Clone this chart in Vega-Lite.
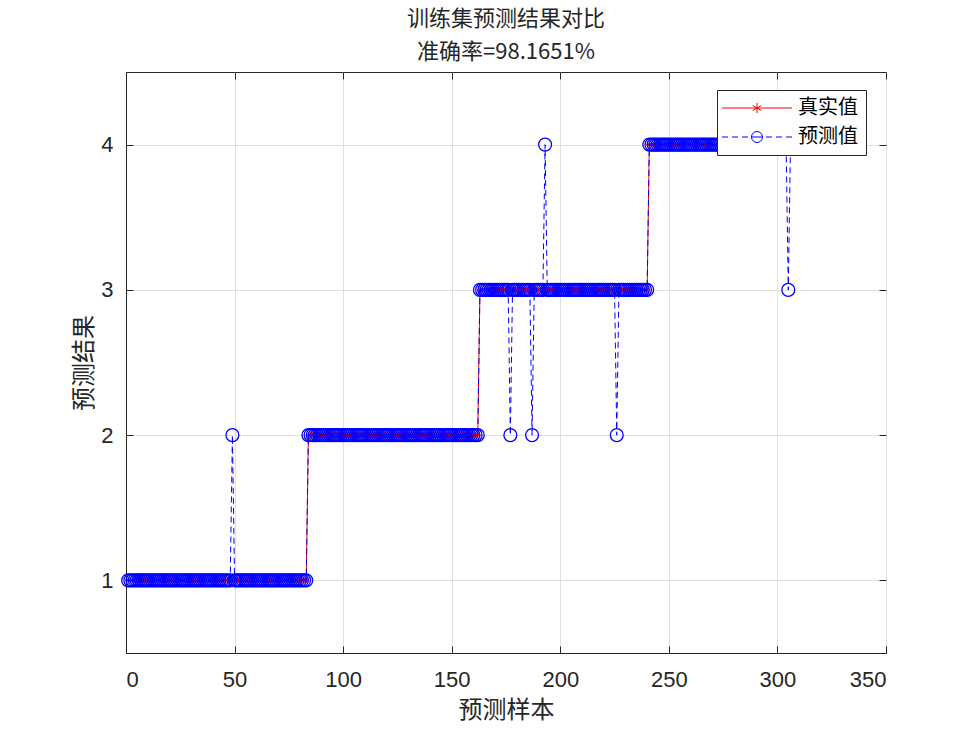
{
"$schema":"https://vega.github.io/schema/vega-lite/v6.json",
"width":760,"height":581,
"autosize":{"type":"none"},
"padding":{"left":126,"top":72,"right":94,"bottom":82},
"background":"white",
"title":{"text":["训练集预测结果对比","准确率=98.1651%"],"font":"Noto Sans CJK SC","fontSize":22,"fontWeight":"normal","color":"#262626","lineHeight":33,"offset":8,"anchor":"middle"},
"data":{"values":[
{"x":1,"t":1,"p":1},{"x":2,"t":1,"p":1},{"x":3,"t":1,"p":1},{"x":4,"t":1,"p":1},{"x":5,"t":1,"p":1},{"x":6,"t":1,"p":1},{"x":7,"t":1,"p":1},{"x":8,"t":1,"p":1},{"x":9,"t":1,"p":1},{"x":10,"t":1,"p":1},
{"x":11,"t":1,"p":1},{"x":12,"t":1,"p":1},{"x":13,"t":1,"p":1},{"x":14,"t":1,"p":1},{"x":15,"t":1,"p":1},{"x":16,"t":1,"p":1},{"x":17,"t":1,"p":1},{"x":18,"t":1,"p":1},{"x":19,"t":1,"p":1},{"x":20,"t":1,"p":1},
{"x":21,"t":1,"p":1},{"x":22,"t":1,"p":1},{"x":23,"t":1,"p":1},{"x":24,"t":1,"p":1},{"x":25,"t":1,"p":1},{"x":26,"t":1,"p":1},{"x":27,"t":1,"p":1},{"x":28,"t":1,"p":1},{"x":29,"t":1,"p":1},{"x":30,"t":1,"p":1},
{"x":31,"t":1,"p":1},{"x":32,"t":1,"p":1},{"x":33,"t":1,"p":1},{"x":34,"t":1,"p":1},{"x":35,"t":1,"p":1},{"x":36,"t":1,"p":1},{"x":37,"t":1,"p":1},{"x":38,"t":1,"p":1},{"x":39,"t":1,"p":1},{"x":40,"t":1,"p":1},
{"x":41,"t":1,"p":1},{"x":42,"t":1,"p":1},{"x":43,"t":1,"p":1},{"x":44,"t":1,"p":1},{"x":45,"t":1,"p":1},{"x":46,"t":1,"p":1},{"x":47,"t":1,"p":1},{"x":48,"t":1,"p":1},{"x":49,"t":1,"p":2},{"x":50,"t":1,"p":1},
{"x":51,"t":1,"p":1},{"x":52,"t":1,"p":1},{"x":53,"t":1,"p":1},{"x":54,"t":1,"p":1},{"x":55,"t":1,"p":1},{"x":56,"t":1,"p":1},{"x":57,"t":1,"p":1},{"x":58,"t":1,"p":1},{"x":59,"t":1,"p":1},{"x":60,"t":1,"p":1},
{"x":61,"t":1,"p":1},{"x":62,"t":1,"p":1},{"x":63,"t":1,"p":1},{"x":64,"t":1,"p":1},{"x":65,"t":1,"p":1},{"x":66,"t":1,"p":1},{"x":67,"t":1,"p":1},{"x":68,"t":1,"p":1},{"x":69,"t":1,"p":1},{"x":70,"t":1,"p":1},
{"x":71,"t":1,"p":1},{"x":72,"t":1,"p":1},{"x":73,"t":1,"p":1},{"x":74,"t":1,"p":1},{"x":75,"t":1,"p":1},{"x":76,"t":1,"p":1},{"x":77,"t":1,"p":1},{"x":78,"t":1,"p":1},{"x":79,"t":1,"p":1},{"x":80,"t":1,"p":1},
{"x":81,"t":1,"p":1},{"x":82,"t":1,"p":1},{"x":83,"t":1,"p":1},{"x":84,"t":2,"p":2},{"x":85,"t":2,"p":2},{"x":86,"t":2,"p":2},{"x":87,"t":2,"p":2},{"x":88,"t":2,"p":2},{"x":89,"t":2,"p":2},{"x":90,"t":2,"p":2},
{"x":91,"t":2,"p":2},{"x":92,"t":2,"p":2},{"x":93,"t":2,"p":2},{"x":94,"t":2,"p":2},{"x":95,"t":2,"p":2},{"x":96,"t":2,"p":2},{"x":97,"t":2,"p":2},{"x":98,"t":2,"p":2},{"x":99,"t":2,"p":2},{"x":100,"t":2,"p":2},
{"x":101,"t":2,"p":2},{"x":102,"t":2,"p":2},{"x":103,"t":2,"p":2},{"x":104,"t":2,"p":2},{"x":105,"t":2,"p":2},{"x":106,"t":2,"p":2},{"x":107,"t":2,"p":2},{"x":108,"t":2,"p":2},{"x":109,"t":2,"p":2},{"x":110,"t":2,"p":2},
{"x":111,"t":2,"p":2},{"x":112,"t":2,"p":2},{"x":113,"t":2,"p":2},{"x":114,"t":2,"p":2},{"x":115,"t":2,"p":2},{"x":116,"t":2,"p":2},{"x":117,"t":2,"p":2},{"x":118,"t":2,"p":2},{"x":119,"t":2,"p":2},{"x":120,"t":2,"p":2},
{"x":121,"t":2,"p":2},{"x":122,"t":2,"p":2},{"x":123,"t":2,"p":2},{"x":124,"t":2,"p":2},{"x":125,"t":2,"p":2},{"x":126,"t":2,"p":2},{"x":127,"t":2,"p":2},{"x":128,"t":2,"p":2},{"x":129,"t":2,"p":2},{"x":130,"t":2,"p":2},
{"x":131,"t":2,"p":2},{"x":132,"t":2,"p":2},{"x":133,"t":2,"p":2},{"x":134,"t":2,"p":2},{"x":135,"t":2,"p":2},{"x":136,"t":2,"p":2},{"x":137,"t":2,"p":2},{"x":138,"t":2,"p":2},{"x":139,"t":2,"p":2},{"x":140,"t":2,"p":2},
{"x":141,"t":2,"p":2},{"x":142,"t":2,"p":2},{"x":143,"t":2,"p":2},{"x":144,"t":2,"p":2},{"x":145,"t":2,"p":2},{"x":146,"t":2,"p":2},{"x":147,"t":2,"p":2},{"x":148,"t":2,"p":2},{"x":149,"t":2,"p":2},{"x":150,"t":2,"p":2},
{"x":151,"t":2,"p":2},{"x":152,"t":2,"p":2},{"x":153,"t":2,"p":2},{"x":154,"t":2,"p":2},{"x":155,"t":2,"p":2},{"x":156,"t":2,"p":2},{"x":157,"t":2,"p":2},{"x":158,"t":2,"p":2},{"x":159,"t":2,"p":2},{"x":160,"t":2,"p":2},
{"x":161,"t":2,"p":2},{"x":162,"t":2,"p":2},{"x":163,"t":3,"p":3},{"x":164,"t":3,"p":3},{"x":165,"t":3,"p":3},{"x":166,"t":3,"p":3},{"x":167,"t":3,"p":3},{"x":168,"t":3,"p":3},{"x":169,"t":3,"p":3},{"x":170,"t":3,"p":3},
{"x":171,"t":3,"p":3},{"x":172,"t":3,"p":3},{"x":173,"t":3,"p":3},{"x":174,"t":3,"p":3},{"x":175,"t":3,"p":3},{"x":176,"t":3,"p":3},{"x":177,"t":3,"p":2},{"x":178,"t":3,"p":3},{"x":179,"t":3,"p":3},{"x":180,"t":3,"p":3},
{"x":181,"t":3,"p":3},{"x":182,"t":3,"p":3},{"x":183,"t":3,"p":3},{"x":184,"t":3,"p":3},{"x":185,"t":3,"p":3},{"x":186,"t":3,"p":3},{"x":187,"t":3,"p":2},{"x":188,"t":3,"p":3},{"x":189,"t":3,"p":3},{"x":190,"t":3,"p":3},
{"x":191,"t":3,"p":3},{"x":192,"t":3,"p":3},{"x":193,"t":3,"p":4},{"x":194,"t":3,"p":3},{"x":195,"t":3,"p":3},{"x":196,"t":3,"p":3},{"x":197,"t":3,"p":3},{"x":198,"t":3,"p":3},{"x":199,"t":3,"p":3},{"x":200,"t":3,"p":3},
{"x":201,"t":3,"p":3},{"x":202,"t":3,"p":3},{"x":203,"t":3,"p":3},{"x":204,"t":3,"p":3},{"x":205,"t":3,"p":3},{"x":206,"t":3,"p":3},{"x":207,"t":3,"p":3},{"x":208,"t":3,"p":3},{"x":209,"t":3,"p":3},{"x":210,"t":3,"p":3},
{"x":211,"t":3,"p":3},{"x":212,"t":3,"p":3},{"x":213,"t":3,"p":3},{"x":214,"t":3,"p":3},{"x":215,"t":3,"p":3},{"x":216,"t":3,"p":3},{"x":217,"t":3,"p":3},{"x":218,"t":3,"p":3},{"x":219,"t":3,"p":3},{"x":220,"t":3,"p":3},
{"x":221,"t":3,"p":3},{"x":222,"t":3,"p":3},{"x":223,"t":3,"p":3},{"x":224,"t":3,"p":3},{"x":225,"t":3,"p":3},{"x":226,"t":3,"p":2},{"x":227,"t":3,"p":3},{"x":228,"t":3,"p":3},{"x":229,"t":3,"p":3},{"x":230,"t":3,"p":3},
{"x":231,"t":3,"p":3},{"x":232,"t":3,"p":3},{"x":233,"t":3,"p":3},{"x":234,"t":3,"p":3},{"x":235,"t":3,"p":3},{"x":236,"t":3,"p":3},{"x":237,"t":3,"p":3},{"x":238,"t":3,"p":3},{"x":239,"t":3,"p":3},{"x":240,"t":3,"p":3},
{"x":241,"t":4,"p":4},{"x":242,"t":4,"p":4},{"x":243,"t":4,"p":4},{"x":244,"t":4,"p":4},{"x":245,"t":4,"p":4},{"x":246,"t":4,"p":4},{"x":247,"t":4,"p":4},{"x":248,"t":4,"p":4},{"x":249,"t":4,"p":4},{"x":250,"t":4,"p":4},
{"x":251,"t":4,"p":4},{"x":252,"t":4,"p":4},{"x":253,"t":4,"p":4},{"x":254,"t":4,"p":4},{"x":255,"t":4,"p":4},{"x":256,"t":4,"p":4},{"x":257,"t":4,"p":4},{"x":258,"t":4,"p":4},{"x":259,"t":4,"p":4},{"x":260,"t":4,"p":4},
{"x":261,"t":4,"p":4},{"x":262,"t":4,"p":4},{"x":263,"t":4,"p":4},{"x":264,"t":4,"p":4},{"x":265,"t":4,"p":4},{"x":266,"t":4,"p":4},{"x":267,"t":4,"p":4},{"x":268,"t":4,"p":4},{"x":269,"t":4,"p":4},{"x":270,"t":4,"p":4},
{"x":271,"t":4,"p":4},{"x":272,"t":4,"p":4},{"x":273,"t":4,"p":4},{"x":274,"t":4,"p":4},{"x":275,"t":4,"p":4},{"x":276,"t":4,"p":4},{"x":277,"t":4,"p":4},{"x":278,"t":4,"p":4},{"x":279,"t":4,"p":4},{"x":280,"t":4,"p":4},
{"x":281,"t":4,"p":4},{"x":282,"t":4,"p":4},{"x":283,"t":4,"p":4},{"x":284,"t":4,"p":4},{"x":285,"t":4,"p":4},{"x":286,"t":4,"p":4},{"x":287,"t":4,"p":4},{"x":288,"t":4,"p":4},{"x":289,"t":4,"p":4},{"x":290,"t":4,"p":4},
{"x":291,"t":4,"p":4},{"x":292,"t":4,"p":4},{"x":293,"t":4,"p":4},{"x":294,"t":4,"p":4},{"x":295,"t":4,"p":4},{"x":296,"t":4,"p":4},{"x":297,"t":4,"p":4},{"x":298,"t":4,"p":4},{"x":299,"t":4,"p":4},{"x":300,"t":4,"p":4},
{"x":301,"t":4,"p":4},{"x":302,"t":4,"p":4},{"x":303,"t":4,"p":4},{"x":304,"t":4,"p":4},{"x":305,"t":4,"p":3},{"x":306,"t":4,"p":4},{"x":307,"t":4,"p":4},{"x":308,"t":4,"p":4},{"x":309,"t":4,"p":4},{"x":310,"t":4,"p":4},
{"x":311,"t":4,"p":4},{"x":312,"t":4,"p":4},{"x":313,"t":4,"p":4},{"x":314,"t":4,"p":4},{"x":315,"t":4,"p":4},{"x":316,"t":4,"p":4},{"x":317,"t":4,"p":4},{"x":318,"t":4,"p":4},{"x":319,"t":4,"p":4},{"x":320,"t":4,"p":4},
{"x":321,"t":4,"p":4},{"x":322,"t":4,"p":4},{"x":323,"t":4,"p":4},{"x":324,"t":4,"p":4},{"x":325,"t":4,"p":4},{"x":326,"t":4,"p":4},{"x":327,"t":4,"p":4}
]},
"layer":[
{"mark":{"type":"line","color":"#ff0000","strokeWidth":1},
 "encoding":{
  "x":{"field":"x","type":"quantitative","scale":{"domain":[0,350],"nice":false,"zero":false},
       "axis":{"orient":"bottom","title":"预测样本","values":[0,50,100,150,200,250,300,350],"grid":true,"labelPadding":23,"titlePadding":8}},
  "y":{"field":"t","type":"quantitative","scale":{"domain":[0.5,4.5],"nice":false,"zero":false},
       "axis":{"orient":"left","title":"预测结果","values":[1,2,3,4],"grid":true,"labelPadding":20,"titlePadding":4}}}},
{"mark":{"type":"point","shape":"M-1,0L1,0M0,-1L0,1M-0.7,-0.7L0.7,0.7M-0.7,0.7L0.7,-0.7","filled":false,"color":"#ff0000","size":36,"strokeWidth":1,"opacity":1},
 "encoding":{
  "x":{"field":"x","type":"quantitative","axis":{"orient":"top","title":null,"labels":false,"grid":false,"values":[0,50,100,150,200,250,300,350],"domain":false}},
  "y":{"field":"t","type":"quantitative","axis":{"orient":"right","title":null,"labels":false,"grid":false,"values":[1,2,3,4],"domain":false}}}},
{"mark":{"type":"line","color":"#0000ff","strokeWidth":1,"strokeDash":[6,4]},
 "encoding":{
  "x":{"field":"x","type":"quantitative","axis":null},
  "y":{"field":"p","type":"quantitative","axis":null}}},
{"mark":{"type":"point","shape":"circle","filled":false,"color":"#0000ff","size":165,"strokeWidth":1.3,"opacity":1},
 "encoding":{
  "x":{"field":"x","type":"quantitative","axis":null},
  "y":{"field":"p","type":"quantitative","axis":null}}},
{"transform":[{"filter":"datum.x < 0"}],
 "mark":{"type":"point","filled":false,"strokeWidth":1,"opacity":1},
 "encoding":{
  "color":{"field":"s","type":"nominal","scale":{"domain":["真实值","预测值"],"range":["#ff0000","#0000ff"]},"legend":{"title":null}},
  "shape":{"field":"s","type":"nominal","scale":{"domain":["真实值","预测值"],"range":["M-2.6,0L11.4,0M4.4,-1L4.4,1M3.53,-0.5L5.27,0.5M3.53,0.5L5.27,-0.5","M-2.6,0L-1.4,0M-0.6,0L0.6,0M1.4,0L2.6,0M3.3,0L5.5,0M6.2,0L7.4,0M8.2,0L9.4,0M10.2,0L11.4,0M3.3,0A1.1,1.1 0 1,1 5.5,0A1.1,1.1 0 1,1 3.3,0"]},"legend":{"title":null}}}}
],
"resolve":{"axis":{"x":"independent","y":"independent"}},
"config":{
 "view":{"stroke":"#262626","strokeWidth":1},
 "axis":{"labelFont":"Liberation Sans","labelFontSize":22,"labelColor":"#262626","tickColor":"#262626","tickSize":-7,"domainColor":"#262626","gridColor":"#e0e0e0","gridWidth":1,"titleFont":"Noto Sans CJK SC","titleFontSize":24,"titleFontWeight":"normal","titleColor":"#262626"},
 "legend":{"orient":"none","legendX":591,"legendY":18,"strokeColor":"#262626","fillColor":"white","padding":8,"labelFont":"Noto Sans CJK SC","labelFontSize":20,"labelColor":"#000000","symbolSize":100,"symbolStrokeWidth":1,"rowPadding":9,"labelOffset":53}
}
}
